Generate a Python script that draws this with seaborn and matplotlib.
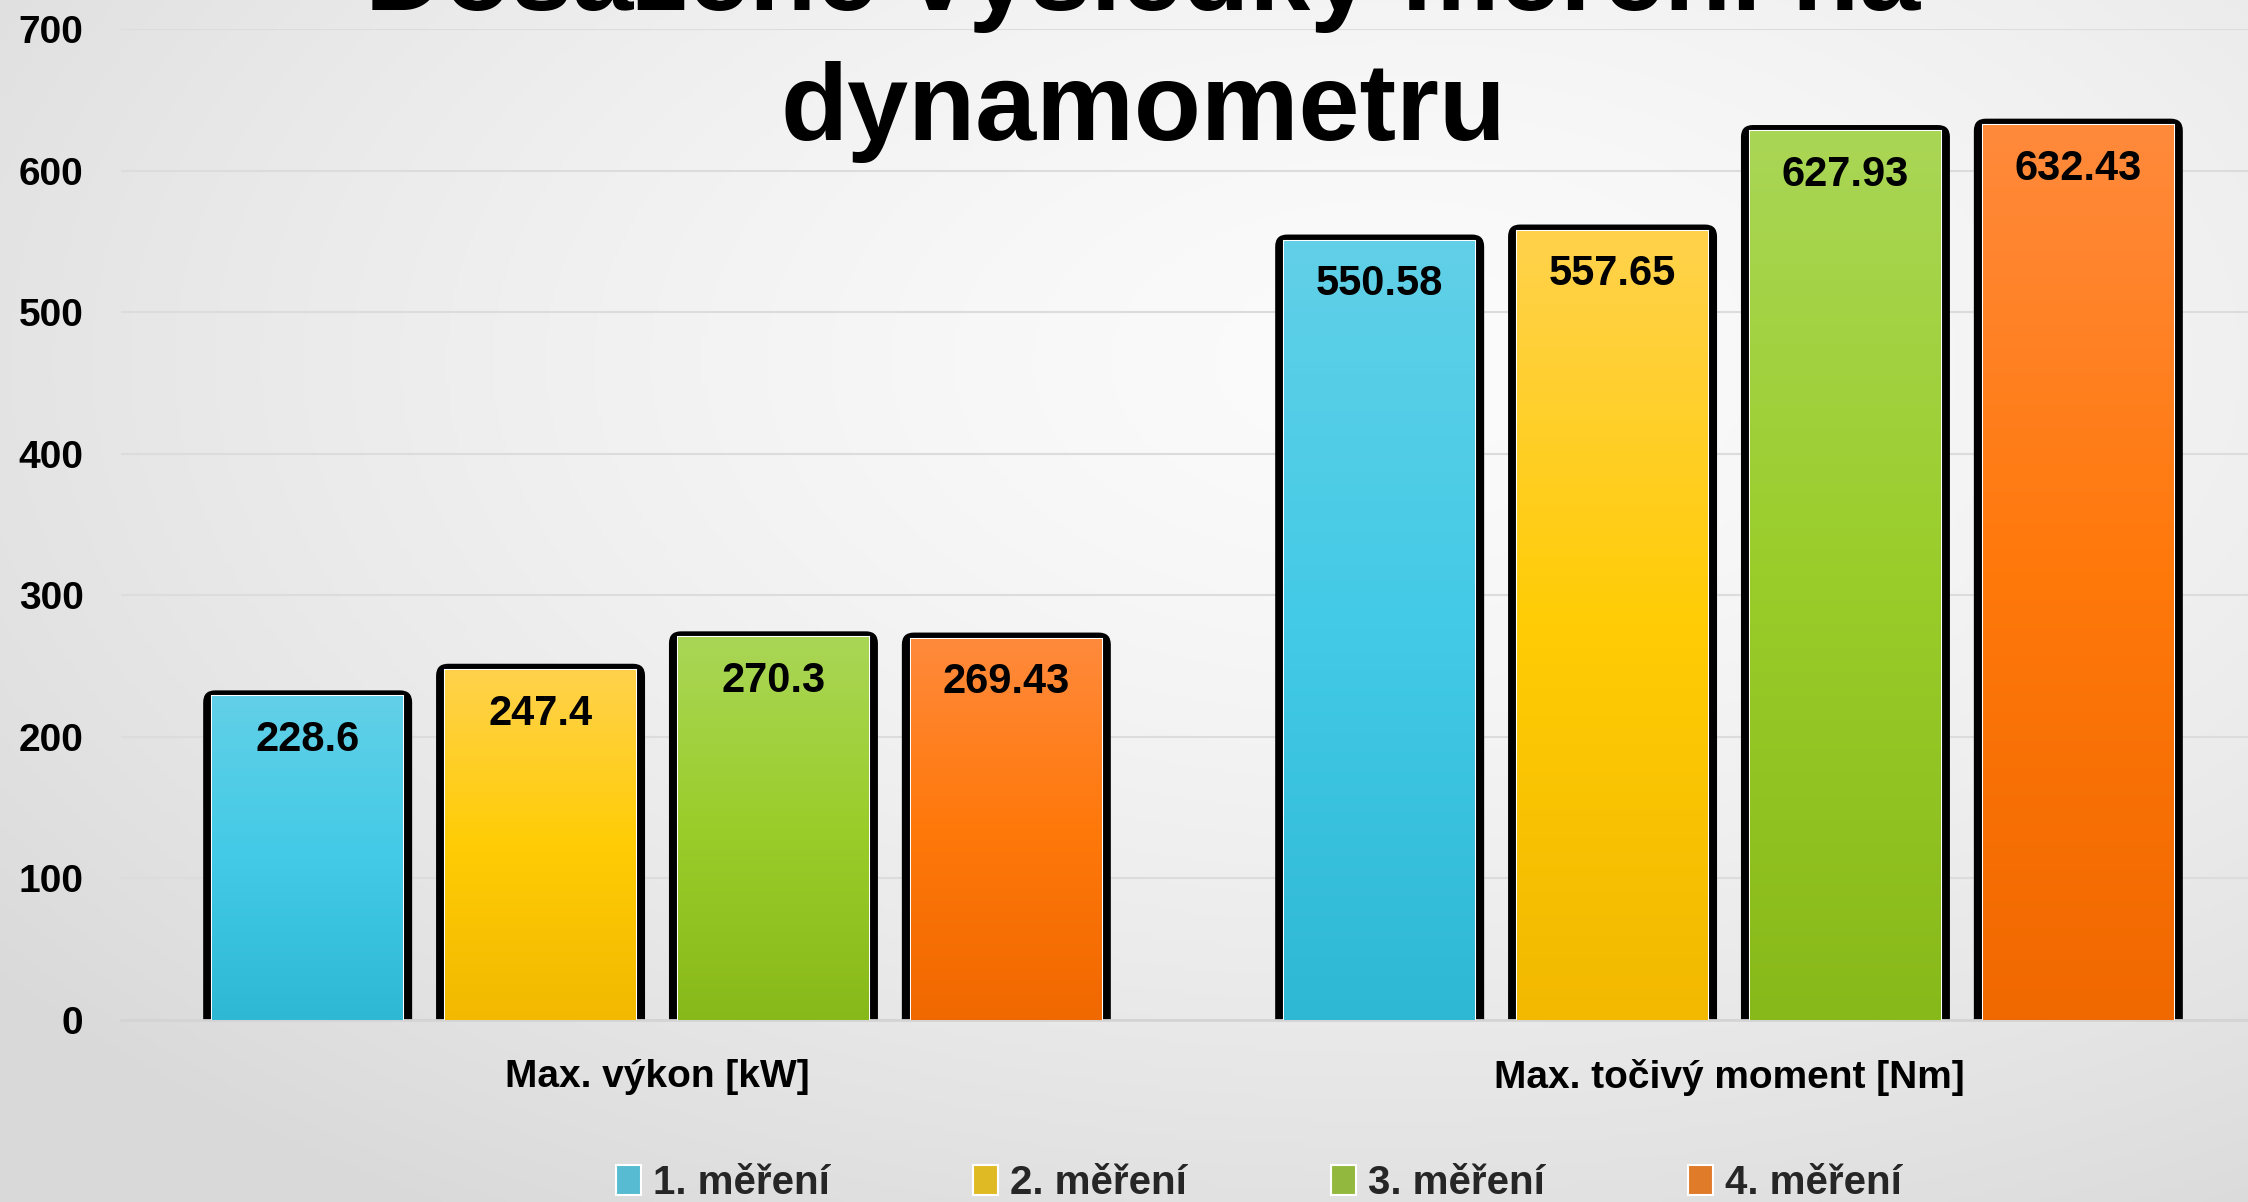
import numpy as np
import pandas as pd
import matplotlib
matplotlib.use("Agg")
import matplotlib.pyplot as plt
import seaborn as sns
from matplotlib.patches import FancyBboxPatch
from matplotlib.transforms import IdentityTransform
from matplotlib.colors import LinearSegmentedColormap

categories = ["Max. výkon [kW]", "Max. točivý moment [Nm]"]
series = ["1. měření", "2. měření", "3. měření", "4. měření"]
vykon = [228.6, 247.4, 270.3, 269.43]
moment = [550.58, 557.65, 627.93, 632.43]
y_ticks = [0, 100, 200, 300, 400, 500, 600, 700]
title_lines = ["Dosažené výsledky měření na", "dynamometru"]

# top / middle / bottom shades of each series
shades = {
    "1. měření": ["#62D0E8", "#42CAE6", "#2FB8D4"],
    "2. měření": ["#FFD24C", "#FFCC05", "#F2B900"],
    "3. měření": ["#AAD656", "#9ACD2A", "#88B91A"],
    "4. měření": ["#FF8A3C", "#FF780A", "#F06800"],
}
palette = {s: c[1] for s, c in shades.items()}

df = pd.DataFrame({
    "category": [categories[0]] * 4 + [categories[1]] * 4,
    "series": series * 2,
    "value": vykon + moment,
})

sns.set_theme(style="white")
plt.rcParams.update({
    "font.family": ["Liberation Sans", "DejaVu Sans"],
    "font.weight": "bold",
})

W, H = 2248, 1202
fig = plt.figure(figsize=(W / 100, H / 100), dpi=100)

# soft radial background
bg = fig.add_axes([0, 0, 1, 1], zorder=-10)
yy, xx = np.mgrid[0:1:300j, 0:1:560j]
r = np.sqrt(((xx - 0.62) / 0.8) ** 2 + ((yy - 0.3) / 0.85) ** 2)
r = np.clip(r, 0, 1) ** 1.5
bg_cmap = LinearSegmentedColormap.from_list("bg", ["#FBFBFB", "#D9D9D9"])
bg.imshow(r, cmap=bg_cmap, vmin=0, vmax=1, aspect="auto", extent=(0, 1, 0, 1), origin="upper")
bg.set_axis_off()

ax = fig.add_axes([121 / W, 182 / H, 2144 / W, 991 / H])
ax.patch.set_alpha(0)

sns.barplot(data=df, x="category", y="value", hue="series", palette=palette,
            width=0.869, gap=0.18, edgecolor="white", linewidth=1.5,
            ax=ax, zorder=3)

ax.set_xlim(-0.5, 1.5)
ax.set_ylim(0, 700)
ax.set_yticks(y_ticks)
ax.set_xlabel("")
ax.set_ylabel("")
ax.yaxis.grid(True, color="#DCDCDC", linewidth=1.5)
ax.xaxis.grid(False)
ax.set_axisbelow(True)
for side in ["left", "right", "top"]:
    ax.spines[side].set_visible(False)
ax.spines["bottom"].set_color("#D4D4D4")
ax.spines["bottom"].set_linewidth(2)
ax.tick_params(axis="y", length=0, pad=27, labelsize=28)
ax.tick_params(axis="x", length=0, pad=28, labelsize=28)
for lbl in ax.get_xticklabels() + ax.get_yticklabels():
    lbl.set_fontweight("bold")
    lbl.set_color("black")

handles, labels = ax.get_legend_handles_labels()
ax.get_legend().remove()

for cont, s in zip(ax.containers, series):
    grad_cmap = LinearSegmentedColormap.from_list(s, shades[s][::-1])
    for bar in cont:
        x0, w, h = bar.get_x(), bar.get_width(), bar.get_height()
        # black shadow frame around the bar
        (px0, py0) = ax.transData.transform((x0, 0))
        (px1, py1) = ax.transData.transform((x0 + w, h))
        frame = FancyBboxPatch((px0 - 9, py0 - 20), (px1 - px0) + 18, (py1 - py0) + 26,
                               boxstyle="round,pad=0,rounding_size=12",
                               transform=IdentityTransform(), facecolor="black",
                               edgecolor="none", zorder=2.5)
        ax.add_artist(frame)
        # vertical gradient fill
        grad = np.linspace(0, 1, 256)[:, None]
        im = ax.imshow(grad, cmap=grad_cmap, aspect="auto", origin="lower",
                       extent=(x0, x0 + w, 0, h), zorder=3.2)
        im.set_clip_path(bar)
    ax.bar_label(cont, fmt="{:g}", padding=-46, fontsize=30, fontweight="bold",
                 color="black", zorder=5)

ax.set_xlim(-0.5, 1.5)
ax.set_ylim(0, 700)
ax.set_aspect("auto")

fig.legend(handles, labels, loc="lower left", bbox_to_anchor=(616 / W, 0.0),
           ncol=4, frameon=False, borderpad=0, borderaxespad=0,
           handlelength=0.62, handleheight=0.75, handletextpad=0.3,
           columnspacing=3.56, prop={"weight": "bold", "size": 29})

fig.text(1143 / W, 1 - 10 / H, title_lines[0], ha="center", va="baseline",
         fontsize=79, fontweight="bold", color="black")
fig.text(1143 / W, 1 - 140 / H, title_lines[1], ha="center", va="baseline",
         fontsize=79, fontweight="bold", color="black")

fig.savefig("out.png", dpi=100)
